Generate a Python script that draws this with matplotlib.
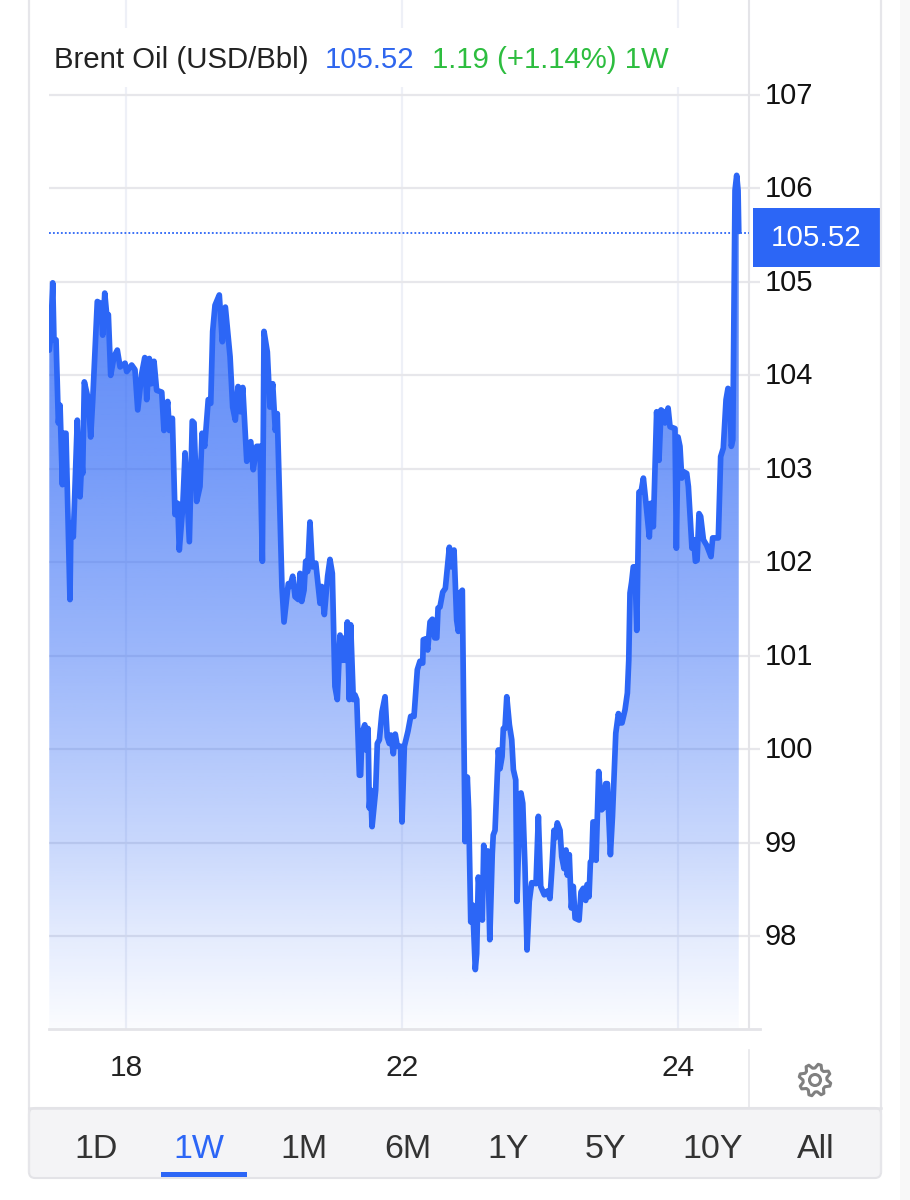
import matplotlib
matplotlib.use("Agg")
import matplotlib.pyplot as plt
import numpy as np
from matplotlib.patches import Rectangle, FancyBboxPatch, Circle, Polygon

plt.rcParams['font.family'] = ['Liberation Sans', 'DejaVu Sans']

# trading days counted from the 18th (18 = 0, 22 = 2, 24 = 4)
session_pos = [
    -0.556, -0.546, -0.531, -0.522, -0.507, -0.490, -0.478, -0.461, -0.454, -0.435,
    -0.406, -0.399, -0.382, -0.353, -0.333, -0.321, -0.314, -0.302, -0.273, -0.256,
    -0.241, -0.208, -0.183, -0.169, -0.154, -0.140, -0.128, -0.111, -0.087, -0.063,
    -0.043, -0.007, 0.005, 0.041, 0.065, 0.085, 0.114, 0.136, 0.150, 0.169,
    0.183, 0.203, 0.222, 0.259, 0.275, 0.302, 0.314, 0.336, 0.355, 0.375,
    0.386, 0.411, 0.428, 0.459, 0.480, 0.493, 0.512, 0.536, 0.551, 0.570,
    0.596, 0.614, 0.628, 0.645, 0.676, 0.698, 0.720, 0.754, 0.773, 0.792,
    0.812, 0.828, 0.846, 0.875, 0.904, 0.922, 0.947, 0.971, 0.988, 1.000,
    1.024, 1.043, 1.063, 1.082, 1.096, 1.116, 1.130, 1.145, 1.176, 1.188,
    1.208, 1.225, 1.249, 1.261, 1.273, 1.290, 1.302, 1.316, 1.333, 1.350,
    1.375, 1.406, 1.418, 1.437, 1.461, 1.478, 1.495, 1.514, 1.531, 1.551,
    1.570, 1.585, 1.592, 1.604, 1.618, 1.628, 1.647, 1.659, 1.672, 1.691,
    1.700, 1.710, 1.730, 1.739, 1.754, 1.763, 1.773, 1.783, 1.809, 1.821,
    1.836, 1.855, 1.877, 1.893, 1.908, 1.920, 1.937, 1.951, 1.966, 1.990,
    2.000, 2.017, 2.043, 2.063, 2.087, 2.111, 2.130, 2.150, 2.154, 2.172,
    2.186, 2.203, 2.220, 2.237, 2.252, 2.261, 2.275, 2.295, 2.314, 2.328,
    2.343, 2.357, 2.377, 2.396, 2.408, 2.420, 2.437, 2.457, 2.473, 2.483,
    2.498, 2.512, 2.531, 2.541, 2.553, 2.582, 2.592, 2.609, 2.621, 2.636,
    2.654, 2.661, 2.674, 2.698, 2.710, 2.725, 2.734, 2.746, 2.759, 2.778,
    2.795, 2.807, 2.824, 2.833, 2.848, 2.862, 2.875, 2.891, 2.906, 2.922,
    2.940, 2.971, 2.988, 3.005, 3.031, 3.053, 3.072, 3.087, 3.101, 3.111,
    3.125, 3.145, 3.157, 3.174, 3.188, 3.198, 3.212, 3.227, 3.241, 3.254,
    3.283, 3.297, 3.314, 3.331, 3.341, 3.355, 3.365, 3.375, 3.384, 3.396,
    3.406, 3.425, 3.447, 3.459, 3.476, 3.488, 3.510, 3.525, 3.549, 3.568,
    3.580, 3.594, 3.616, 3.633, 3.643, 3.652, 3.664, 3.676, 3.688, 3.701,
    3.717, 3.732, 3.749, 3.763, 3.792, 3.802, 3.821, 3.845, 3.862, 3.877,
    3.893, 3.906, 3.928, 3.942, 3.978, 3.988, 4.000, 4.014, 4.027, 4.038,
    4.063, 4.075, 4.101, 4.114, 4.126, 4.138, 4.152, 4.164, 4.184, 4.208,
    4.239, 4.251, 4.292, 4.309, 4.328, 4.348, 4.362, 4.375, 4.386, 4.397,
    4.408, 4.413, 4.425, 4.435, 4.440,
]

brent_price = [
    104.27, 104.41, 104.99, 104.38, 104.38, 103.49, 103.68, 102.83, 103.38, 103.38,
    101.60, 102.42, 102.27, 103.52, 102.70, 103.09, 102.95, 103.93, 103.74, 103.34,
    103.74, 104.79, 104.77, 104.43, 104.88, 104.65, 104.65, 104.00, 104.20, 104.27,
    104.09, 104.13, 104.04, 104.11, 104.06, 103.63, 104.02, 104.19, 103.74, 104.18,
    103.91, 104.15, 103.84, 103.82, 103.41, 103.72, 103.41, 103.54, 102.51, 102.63,
    102.13, 102.59, 103.17, 102.22, 103.51, 103.49, 102.65, 102.81, 103.38, 103.24,
    103.74, 103.70, 104.47, 104.75, 104.86, 104.36, 104.73, 104.20, 103.66, 103.52,
    103.88, 103.61, 103.87, 103.08, 103.29, 102.99, 103.24, 103.24, 102.01, 104.47,
    104.25, 103.66, 103.91, 103.41, 103.59, 102.49, 101.74, 101.36, 101.77, 101.74,
    101.85, 101.63, 101.60, 101.88, 101.58, 101.70, 102.01, 101.90, 102.43, 101.95,
    101.99, 101.56, 101.74, 101.44, 101.85, 102.03, 101.88, 100.67, 100.53, 101.22,
    100.95, 101.19, 100.95, 101.36, 100.53, 101.33, 100.53, 100.58, 100.53, 99.72,
    99.72, 100.17, 100.26, 99.99, 100.22, 99.37, 99.56, 99.17, 99.56, 100.06,
    100.10, 100.40, 100.56, 100.13, 100.06, 100.15, 99.95, 100.16, 100.03, 100.03,
    99.22, 100.03, 100.19, 100.35, 100.35, 100.85, 100.94, 100.92, 101.17, 101.18,
    101.06, 101.36, 101.39, 101.19, 101.19, 101.51, 101.52, 101.68, 101.72, 101.93,
    102.16, 101.95, 102.13, 101.38, 101.26, 101.67, 101.70, 99.01, 99.70, 99.35,
    98.15, 98.33, 97.64, 97.81, 98.63, 98.17, 98.97, 98.63, 98.91, 97.96,
    98.88, 99.08, 99.13, 99.99, 99.79, 99.92, 100.22, 100.22, 100.56, 100.26,
    100.10, 99.78, 99.67, 98.37, 99.13, 99.53, 99.42, 98.74, 97.85, 98.37,
    98.57, 98.56, 99.28, 98.53, 98.44, 98.48, 98.40, 98.74, 99.13, 99.05,
    99.21, 99.13, 98.85, 98.72, 98.92, 98.65, 98.87, 98.30, 98.53, 98.19,
    98.17, 98.47, 98.51, 98.38, 98.55, 98.42, 98.79, 98.81, 99.22, 99.22,
    98.81, 99.76, 99.35, 99.37, 99.63, 99.63, 98.87, 99.28, 100.17, 100.38,
    100.28, 100.28, 100.42, 100.60, 100.95, 101.67, 101.79, 101.95, 101.95, 101.27,
    102.75, 102.75, 102.90, 102.70, 102.27, 102.63, 102.38, 103.61, 103.09, 103.63,
    103.61, 103.49, 103.65, 103.45, 103.43, 102.15, 103.34, 103.24, 102.90, 102.97,
    102.95, 102.81, 102.15, 102.24, 102.01, 102.02, 102.52, 102.49, 102.24, 102.18,
    102.06, 102.26, 102.26, 103.13, 103.22, 103.74, 103.86, 103.81, 103.24, 103.31,
    105.23, 105.98, 106.14, 105.98, 105.54,
]

y_ticks = [98, 99, 100, 101, 102, 103, 104, 105, 106, 107]
x_tick_pos = [0, 2, 4]
x_tick_labels = ['18', '22', '24']
last_price = 105.52
ranges = ['1D', '1W', '1M', '6M', '1Y', '5Y', '10Y', 'All']

BLUE = '#2c66f6'
GRID_H = '#e7e7eb'
GRID_V = '#eef0f7'

W, H = 910, 1200
fig = plt.figure(figsize=(W / 100, H / 100), dpi=100, facecolor='white')

# main axes, placed by pixel edges of the plot area
ax = fig.add_axes([49 / W, 1 - 1029 / H, (760 - 49) / W, 1029 / H])
ax.patch.set_alpha(0)
xlim = (-0.558, 4.594)
ylim = (97.004, 108.017)

ax.set_yticks(y_ticks)
ax.set_xticks(x_tick_pos)
ax.set_xticklabels(x_tick_labels)
ax.yaxis.tick_right()
ax.tick_params(axis='y', length=0, pad=3.5, labelsize=21, labelcolor='#111111')
ax.tick_params(axis='x', length=0, pad=18, labelsize=21.5, labelcolor='#222222')
for s in ax.spines.values():
    s.set_visible(False)
ax.spines['bottom'].set_visible(True)
ax.spines['bottom'].set_color('#e4e4e8')
ax.spines['bottom'].set_linewidth(2)

ax.grid(axis='y', color=GRID_H, lw=1.6, zorder=1)
ax.grid(axis='x', color=GRID_V, lw=1.6, zorder=1)
ax.set_axisbelow(True)
ax.axvline(4.514, color='#e4e4e8', lw=1.5, zorder=1.5)

# gradient under the line
poly = ax.fill_between(session_pos, brent_price, ylim[0], facecolor='none', edgecolor='none')
rows = np.linspace(ylim[1], ylim[0], 600)
alpha = np.interp(rows, [97.0, 98.0, 99.0, 101.0, 103.0, 106.2], [0.02, 0.13, 0.26, 0.47, 0.65, 0.85])
grad = np.zeros((600, 1, 4))
grad[..., :3] = matplotlib.colors.to_rgb(BLUE)
grad[..., 3] = alpha[:, None]
im = ax.imshow(grad, extent=[xlim[0], xlim[1], ylim[0], ylim[1]], aspect='auto', origin='upper', zorder=2)
im.set_clip_path(poly.get_paths()[0], transform=ax.transData)

ax.plot(session_pos, brent_price, color=BLUE, lw=4.1, solid_joinstyle='round', solid_capstyle='round', zorder=3)
ax.plot([xlim[0], 4.514], [last_price, last_price], color=BLUE, lw=1.3, ls=(0, (1, 1.2)), zorder=2.5)
ax.set_xlim(xlim)
ax.set_ylim(ylim)

# tick labels sit a touch lower than plain centring
for lab in ax.get_yticklabels():
    lab.set_verticalalignment('center')
    lab.set_transform(lab.get_transform() + matplotlib.transforms.ScaledTranslation(0, -1.0 / 100, fig.dpi_scale_trans))

# chrome drawn in pixel coordinates on top
ov = fig.add_axes([0, 0, 1, 1], zorder=5)
ov.set_xlim(0, W)
ov.set_ylim(H, 0)
ov.axis('off')
ov.patch.set_alpha(0)

ov.add_patch(Rectangle((40, 28), 645, 59, fc='white', ec='none'))
ov.text(54, 59.5, 'Brent Oil (USD/Bbl)', fontsize=21.2, color='#222222', va='center')
ov.text(325, 59.5, '105.52', fontsize=21.2, color='#2f66ee', va='center')
ov.text(432, 59.5, '1.19 (+1.14%) 1W', fontsize=21.2, color='#2dbd3f', va='center')

ov.add_patch(Rectangle((753, 208), 127, 59, fc=BLUE, ec='none'))
ov.text(816, 238, '105.52', fontsize=21.3, color='white', ha='center', va='center')

# outer frame and range bar
ov.plot([29, 29], [0, 1172], color='#e6e6ea', lw=1.6)
ov.plot([881, 881], [0, 1172], color='#e6e6ea', lw=1.6)
ov.plot([749, 749], [1050, 1108], color='#e6e6ea', lw=1.2)
ov.add_patch(FancyBboxPatch((29, 1108), 852, 70, boxstyle='round,pad=0,rounding_size=6',
                            fc='#f4f4f6', ec='#e3e3e7', lw=1.5))
ov.plot([29, 881], [1108, 1108], color='#e3e3e7', lw=1.8)
ov.add_patch(Rectangle((161, 1172), 86, 5, fc=BLUE, ec='none'))
ov.add_patch(Rectangle((900, 0), 10, H, fc='#f8f8f8', ec='none'))

range_x = [96, 198.5, 303.5, 408, 508, 605, 712.5, 816]
for name, x in zip(ranges, range_x):
    ov.text(x, 1150, name, fontsize=24.5, ha='center', va='center',
            color=BLUE if name == '1W' else '#333333')

# settings gear
cx, cy = 815, 1080
ang = np.linspace(0, 2 * np.pi, 8 * 4, endpoint=False) + np.pi / 8 - np.pi / 16
rad = np.tile([16, 16, 12, 12], 8)
gear = np.c_[cx + rad * np.cos(ang), cy + rad * np.sin(ang)]
ov.add_patch(Polygon(gear, closed=True, fc='none', ec='#808080', lw=2.2, joinstyle='round'))
ov.add_patch(Circle((cx, cy), 5.5, fc='none', ec='#808080', lw=2.2))

fig.savefig('out.png', dpi=100)
